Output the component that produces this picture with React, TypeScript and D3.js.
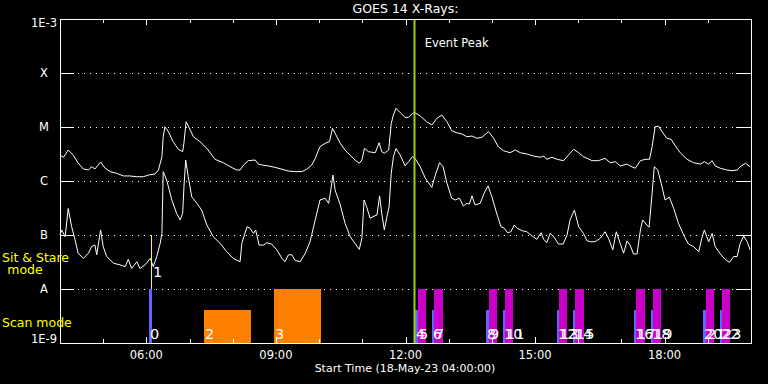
import { useEffect, useRef } from "react";
import * as d3 from "d3";

// GOES 14 X-ray flux, hours UT on 18-May-23, W/m^2
const longChannel: [number, number][] = [
  [4.0, 3.0e-6], [4.08, 2.75e-6], [4.19, 3.75e-6], [4.31, 3.0e-6], [4.42, 2.15e-6], [4.54, 1.67e-6],
  [4.66, 1.6e-6], [4.73, 1.84e-6], [4.81, 1.67e-6], [4.94, 2.25e-6], [5.04, 1.74e-6], [5.16, 1.49e-6],
  [5.31, 1.39e-6], [5.47, 1.24e-6], [5.62, 1.24e-6], [5.78, 1.2e-6], [5.93, 1.2e-6], [6.05, 1.29e-6],
  [6.2, 1.35e-6], [6.28, 1.6e-6], [6.36, 2.82e-6], [6.39, 6.6e-6], [6.43, 1.01e-5], [6.51, 8.2e-6],
  [6.62, 5.35e-6], [6.74, 3.86e-6], [6.84, 3.49e-6], [6.87, 5.05e-6], [6.92, 1.25e-5], [6.97, 1.04e-5],
  [7.09, 6.6e-6], [7.24, 5.35e-6], [7.4, 4.03e-6], [7.59, 2.52e-6], [7.78, 2.18e-6], [7.94, 1.84e-6],
  [8.09, 1.6e-6], [8.17, 1.6e-6], [8.25, 1.98e-6], [8.36, 2.38e-6], [8.52, 2.45e-6], [8.59, 2.06e-6],
  [8.67, 1.98e-6], [8.83, 1.9e-6], [8.98, 1.79e-6], [9.14, 1.65e-6], [9.29, 1.53e-6], [9.44, 1.49e-6],
  [9.6, 1.49e-6], [9.71, 1.65e-6], [9.83, 1.98e-6], [9.91, 2.63e-6], [10.02, 4.32e-6], [10.14, 4.99e-6],
  [10.24, 5.35e-6], [10.31, 9.46e-6], [10.37, 7.64e-6], [10.49, 4.99e-6], [10.6, 3.75e-6], [10.72, 3.0e-6],
  [10.83, 2.45e-6], [10.93, 2.13e-6], [10.99, 2.45e-6], [11.05, 4.03e-6], [11.14, 3.49e-6], [11.3, 3.34e-6],
  [11.39, 5.12e-6], [11.45, 3.49e-6], [11.51, 3.26e-6], [11.61, 3.75e-6], [11.67, 1.17e-5], [11.72, 1.67e-5],
  [11.78, 2.22e-5], [11.88, 1.84e-5], [11.99, 1.51e-5], [12.07, 1.51e-5], [12.16, 1.79e-5], [12.22, 1.84e-5],
  [12.34, 1.6e-5], [12.49, 1.25e-5], [12.61, 1.09e-5], [12.73, 1.45e-5], [12.84, 1.67e-5], [12.96, 1.25e-5],
  [13.07, 8.5e-6], [13.19, 7.8e-6], [13.31, 7.4e-6], [13.42, 6.6e-6], [13.54, 6.8e-6], [13.65, 6.2e-6],
  [13.77, 6.45e-6], [13.92, 8.2e-6], [14.04, 6.2e-6], [14.15, 4.3e-6], [14.27, 3.64e-6], [14.42, 3.34e-6],
  [14.54, 3.75e-6], [14.66, 3.34e-6], [14.81, 3.16e-6], [14.96, 2.9e-6], [15.12, 2.75e-6], [15.2, 2.9e-6],
  [15.27, 2.52e-6], [15.39, 2.75e-6], [15.51, 2.52e-6], [15.66, 2.38e-6], [15.77, 3.0e-6], [15.89, 3.86e-6],
  [16.01, 3.34e-6], [16.12, 2.82e-6], [16.32, 2.38e-6], [16.47, 2.38e-6], [16.62, 2.63e-6], [16.74, 2.18e-6],
  [16.86, 2.28e-6], [16.97, 1.9e-6], [17.13, 2.06e-6], [17.2, 1.9e-6], [17.32, 1.72e-6], [17.44, 2.38e-6],
  [17.55, 2.52e-6], [17.65, 2.52e-6], [17.71, 4.32e-6], [17.78, 1.01e-5], [17.86, 1.04e-5], [17.94, 8.2e-6],
  [18.05, 6.2e-6], [18.15, 5.9e-6], [18.25, 4.45e-6], [18.36, 3.34e-6], [18.52, 2.52e-6], [18.67, 2.18e-6],
  [18.83, 2.06e-6], [18.92, 2.28e-6], [19.02, 2.06e-6], [19.1, 2.38e-6], [19.17, 1.9e-6], [19.29, 1.72e-6],
  [19.44, 1.6e-6], [19.56, 1.55e-6], [19.68, 1.6e-6], [19.75, 1.84e-6], [19.87, 2.13e-6], [19.98, 1.84e-6],
];

const shortChannel: [number, number][] = [
  [4.0, 1.0e-7], [4.04, 1.24e-7], [4.12, 9.3e-8], [4.19, 3.1e-7], [4.27, 1.42e-7], [4.35, 8.1e-8],
  [4.42, 4.6e-8], [4.54, 3.7e-8], [4.66, 4.6e-8], [4.73, 6.1e-8], [4.81, 6.5e-8], [4.85, 4.3e-8],
  [4.94, 1.24e-7], [5.0, 6.1e-8], [5.08, 4.0e-8], [5.24, 3.0e-8], [5.39, 2.8e-8], [5.51, 2.6e-8],
  [5.58, 3.55e-8], [5.66, 2.4e-8], [5.78, 3.2e-8], [5.85, 2.4e-8], [5.97, 2.8e-8], [6.09, 3.7e-8],
  [6.16, 2.6e-8], [6.24, 4.0e-8], [6.32, 7.0e-8], [6.36, 1.07e-7], [6.39, 1.49e-6], [6.47, 1.04e-6],
  [6.59, 4.45e-7], [6.7, 2.52e-7], [6.78, 1.9e-7], [6.84, 2.52e-7], [6.87, 7.8e-7], [6.91, 2.45e-6],
  [6.97, 1.2e-6], [7.05, 5.1e-7], [7.17, 3.86e-7], [7.28, 2.9e-7], [7.4, 1.53e-7], [7.55, 9.3e-8],
  [7.71, 7.0e-8], [7.86, 4.9e-8], [8.01, 3.7e-8], [8.17, 3.2e-8], [8.21, 7.0e-8], [8.33, 1.42e-7],
  [8.4, 1.33e-7], [8.48, 1.07e-7], [8.53, 1.24e-7], [8.61, 6.5e-8], [8.71, 6.5e-8], [8.79, 7.2e-8],
  [8.9, 6.8e-8], [9.02, 5.3e-8], [9.14, 3.7e-8], [9.21, 3.2e-8], [9.29, 4.3e-8], [9.37, 4.3e-8],
  [9.44, 3.4e-8], [9.56, 3.2e-8], [9.68, 4.6e-8], [9.79, 7.5e-8], [9.91, 1.9e-7], [10.02, 4.45e-7],
  [10.14, 4.8e-7], [10.22, 3.86e-7], [10.27, 6.8e-7], [10.32, 1.29e-6], [10.37, 6.8e-7], [10.49, 3.6e-7],
  [10.6, 1.65e-7], [10.72, 9.3e-8], [10.83, 7.0e-8], [10.93, 5.4e-8], [10.99, 8.7e-8], [11.04, 4.45e-7],
  [11.1, 3.34e-7], [11.18, 2.04e-7], [11.28, 2.25e-7], [11.34, 2.35e-7], [11.4, 5.3e-7], [11.45, 2.52e-7],
  [11.51, 1.24e-7], [11.57, 2.18e-7], [11.62, 3.34e-7], [11.67, 1.39e-6], [11.72, 2.82e-6], [11.78, 4.0e-6],
  [11.88, 3.0e-6], [11.99, 1.9e-6], [12.07, 2.28e-6], [12.16, 2.82e-6], [12.22, 2.63e-6], [12.34, 1.84e-6],
  [12.46, 1.12e-6], [12.61, 7.6e-7], [12.69, 1.29e-6], [12.79, 2.18e-6], [12.87, 1.84e-6], [12.96, 9.1e-7],
  [13.07, 4.8e-7], [13.15, 4.45e-7], [13.25, 4.8e-7], [13.34, 3.44e-7], [13.42, 3.86e-7], [13.48, 3.75e-7],
  [13.54, 5.3e-7], [13.61, 3.6e-7], [13.73, 3.86e-7], [13.82, 5.9e-7], [13.91, 8.1e-7], [14.0, 5.1e-7],
  [14.1, 2.7e-7], [14.21, 1.42e-7], [14.29, 1.33e-7], [14.36, 1.1e-7], [14.44, 1.15e-7], [14.52, 1.53e-7],
  [14.59, 1.33e-7], [14.7, 1.2e-7], [14.81, 1.15e-7], [14.93, 9.6e-8], [15.04, 8.3e-8], [15.14, 1.1e-7],
  [15.2, 8.3e-8], [15.27, 7.2e-8], [15.35, 1.07e-7], [15.44, 9.1e-8], [15.54, 6.8e-8], [15.65, 6.8e-8],
  [15.74, 1.0e-7], [15.81, 1.9e-7], [15.91, 2.9e-7], [16.01, 1.42e-7], [16.12, 1.07e-7], [16.2, 7.8e-8],
  [16.28, 7.5e-8], [16.39, 7.5e-8], [16.51, 8.7e-8], [16.62, 1.15e-7], [16.7, 8.7e-8], [16.8, 5.3e-8],
  [16.88, 1.15e-7], [16.97, 7.0e-8], [17.05, 4.6e-8], [17.13, 7.8e-8], [17.2, 6.5e-8], [17.28, 4.45e-8],
  [17.36, 4.45e-8], [17.44, 1.24e-7], [17.49, 1.9e-7], [17.59, 1.53e-7], [17.64, 1.39e-7], [17.71, 5.9e-7],
  [17.76, 1.84e-6], [17.84, 1.6e-6], [17.92, 9.1e-7], [18.01, 4.45e-7], [18.11, 5.0e-7], [18.21, 3.1e-7],
  [18.32, 1.65e-7], [18.44, 1.0e-7], [18.55, 6.8e-8], [18.67, 6.1e-8], [18.79, 4.9e-8], [18.86, 8.7e-8],
  [18.92, 1.24e-7], [19.02, 7.5e-8], [19.1, 1.07e-7], [19.17, 6.1e-8], [19.29, 4.45e-8], [19.4, 3.55e-8],
  [19.5, 3.1e-8], [19.6, 4.0e-8], [19.68, 4.0e-8], [19.75, 7.0e-8], [19.83, 9.6e-8], [19.91, 7.5e-8],
  [19.98, 5.3e-8],
];

// observations: start / end (hours), top of the bar (flux units on the plot scale), kind
const obsStart = [6.06, 6.11, 7.34, 8.96, 12.22, 12.29, 12.62, 12.66, 13.87, 13.94, 14.26, 14.31,
  15.51, 15.56, 15.88, 15.93, 17.3, 17.34, 17.69, 17.74, 18.9, 18.96, 19.29, 19.33];
const obsEnd = [6.13, 6.11, 8.42, 10.05, 12.29, 12.48, 12.66, 12.87, 13.94, 14.12, 14.31, 14.49,
  15.56, 15.74, 15.93, 16.14, 17.34, 17.55, 17.74, 17.92, 18.96, 19.15, 19.33, 19.52];
const obsTop = [1e-8, 1e-7, 4.1e-9, 1e-8, 4.1e-9, 1e-8, 4.1e-9, 1e-8, 4.1e-9, 1e-8, 4.1e-9, 1e-8,
  4.1e-9, 1e-8, 4.1e-9, 1e-8, 4.1e-9, 1e-8, 4.1e-9, 1e-8, 4.1e-9, 1e-8, 4.1e-9, 1e-8];
const obsKind = ["short", "stare", "long", "long", "short", "raster", "short", "raster", "short", "raster",
  "short", "raster", "short", "raster", "short", "raster", "short", "raster", "short", "raster",
  "short", "raster", "short", "raster"];
const kindColor: Record<string, string> = {
  short: "#6464ff",
  long: "#ff8000",
  raster: "#c800c8",
  stare: "#ffff00",
};

const eventPeak = 12.19;
const xDomain = [4, 20];
const yDecades = [-9, -8, -7, -6, -5, -4, -3];
const yTickLabels = ["1E-9", "A", "B", "C", "M", "X", "1E-3"];
const majorHours = [6, 9, 12, 15, 18];
const xTickLabels = ["06:00", "09:00", "12:00", "15:00", "18:00"];

const FONT = "DejaVu Sans, sans-serif";

const App = () => {
  const svgRef = useRef<SVGSVGElement | null>(null);

  useEffect(() => {
    const width = 768;
    const height = 384;
    const margin = { top: 19, right: 17, bottom: 41, left: 60 };
    const x0 = margin.left;
    const x1 = width - margin.right;
    const y0 = height - margin.bottom;
    const y1 = margin.top;

    const x = d3.scaleLinear().domain(xDomain).range([x0, x1]);
    const y = d3.scaleLog().domain([1e-9, 1e-3]).range([y0, y1]);

    const svg = d3.select(svgRef.current);
    svg.selectAll("*").remove();

    svg.append("rect").attr("width", width).attr("height", height).attr("fill", "#000");

    // dotted decade lines
    svg
      .selectAll(".grid")
      .data(yDecades.slice(1, -1))
      .join("line")
      .attr("x1", x0)
      .attr("x2", x1)
      .attr("y1", (d) => Math.round(y(10 ** d)) + 0.5)
      .attr("y2", (d) => Math.round(y(10 ** d)) + 0.5)
      .attr("stroke", "#fff")
      .attr("stroke-dasharray", "1 5");

    // observation bars
    const scanIdx = d3.range(obsStart.length).filter((i) => obsKind[i] !== "stare");
    svg
      .selectAll(".obs")
      .data(scanIdx)
      .join("rect")
      .attr("x", (i) => Math.round(x(obsStart[i])))
      .attr("width", (i) => Math.max(2, Math.round(x(obsEnd[i]) - x(obsStart[i]))))
      .attr("y", (i) => Math.round(y(obsTop[i])))
      .attr("height", (i) => y0 - Math.round(y(obsTop[i])))
      .attr("fill", (i) => kindColor[obsKind[i]]);

    const stareIdx = d3.range(obsStart.length).filter((i) => obsKind[i] === "stare");
    svg
      .selectAll(".stare")
      .data(stareIdx)
      .join("line")
      .attr("x1", (i) => Math.round(x(obsStart[i])) + 0.5)
      .attr("x2", (i) => Math.round(x(obsStart[i])) + 0.5)
      .attr("y1", (i) => y(obsTop[i]))
      .attr("y2", y(1e-8))
      .attr("stroke", kindColor.stare)
      .attr("stroke-width", 1);

    // flux curves
    const line = d3
      .line<[number, number]>()
      .x((d) => x(d[0]))
      .y((d) => y(d[1]));

    [longChannel, shortChannel].forEach((series) => {
      svg
        .append("path")
        .datum(series)
        .attr("fill", "none")
        .attr("stroke", "#fff")
        .attr("stroke-width", 1)
        .attr("d", line);
    });

    // observation numbers
    svg
      .selectAll(".obsLabel")
      .data(d3.range(obsStart.length))
      .join("text")
      .attr("x", (i) => Math.round(x(obsStart[i])) + (obsKind[i] === "stare" ? 2 : 1))
      .attr("y", (i) => (obsKind[i] === "stare" ? 277 : 339))
      .attr("fill", "#fff")
      .attr("font-family", FONT)
      .attr("font-size", 14.5)
      .text((i) => String(i));

    // event peak
    svg
      .append("line")
      .attr("x1", Math.round(x(eventPeak)) + 0.5)
      .attr("x2", Math.round(x(eventPeak)) + 0.5)
      .attr("y1", y1)
      .attr("y2", y0)
      .attr("stroke", "#a0d200")
      .attr("stroke-width", 2);
    svg
      .append("text")
      .attr("x", x(eventPeak) + 11)
      .attr("y", 47)
      .attr("fill", "#fff")
      .attr("font-family", FONT)
      .attr("font-size", 11.5)
      .text("Event Peak");

    // frame
    svg
      .append("rect")
      .attr("x", x0 + 0.5)
      .attr("y", y1 + 0.5)
      .attr("width", x1 - x0)
      .attr("height", y0 - y1)
      .attr("fill", "none")
      .attr("stroke", "#fff");

    // y ticks, both sides
    const yt = svg.append("g").attr("stroke", "#fff");
    yDecades.forEach((d) => {
      const py = Math.round(y(10 ** d)) + 0.5;
      yt.append("line").attr("x1", x0).attr("x2", x0 + 14).attr("y1", py).attr("y2", py);
      yt.append("line").attr("x1", x1 - 15).attr("x2", x1).attr("y1", py).attr("y2", py);
    });

    // x ticks, hourly, longer every 3 hours
    const hours = d3.range(5, 20);
    const xt = svg.append("g").attr("stroke", "#fff");
    hours.forEach((h) => {
      const px = Math.round(x(h)) + 0.5;
      const len = majorHours.includes(h) ? 6 : 4;
      xt.append("line").attr("x1", px).attr("x2", px).attr("y1", y0).attr("y2", y0 - len);
      xt.append("line").attr("x1", px).attr("x2", px).attr("y1", y1).attr("y2", y1 + len);
    });

    const txt = (
      s: string,
      tx: number,
      ty: number,
      anchor: string,
      color = "#fff",
      size = 11.5
    ) =>
      svg
        .append("text")
        .attr("x", tx)
        .attr("y", ty)
        .attr("text-anchor", anchor)
        .attr("fill", color)
        .attr("font-family", FONT)
        .attr("font-size", size)
        .text(s);

    yDecades.forEach((d, i) => {
      const label = yTickLabels[i];
      const py = y(10 ** d);
      if (label.startsWith("1E")) {
        txt(label, 57, i === 0 ? py : py + 8, "end");
      } else {
        txt(label, 44, py + 4, "middle");
      }
    });

    majorHours.forEach((h, i) => txt(xTickLabels[i], x(h), 359, "middle"));

    txt("GOES 14 X-Rays:", (x0 + x1) / 2, 13, "middle", "#fff", 12.5);
    txt("Start Time (18-May-23 04:00:00)", 405, 372, "middle", "#fff", 11);
    txt("Sit & Stare", 2, 262, "start", "#ffff00", 12.5);
    txt("mode", 25, 274, "middle", "#ffff00", 12.5);
    txt("Scan mode", 2, 327, "start", "#ffff00", 12.5);
  }, []);

  return (
    <svg
      ref={svgRef}
      width={768}
      height={384}
      viewBox="0 0 768 384"
      style={{ position: "absolute", left: 0, top: 0, display: "block" }}
    />
  );
};

export default App;
